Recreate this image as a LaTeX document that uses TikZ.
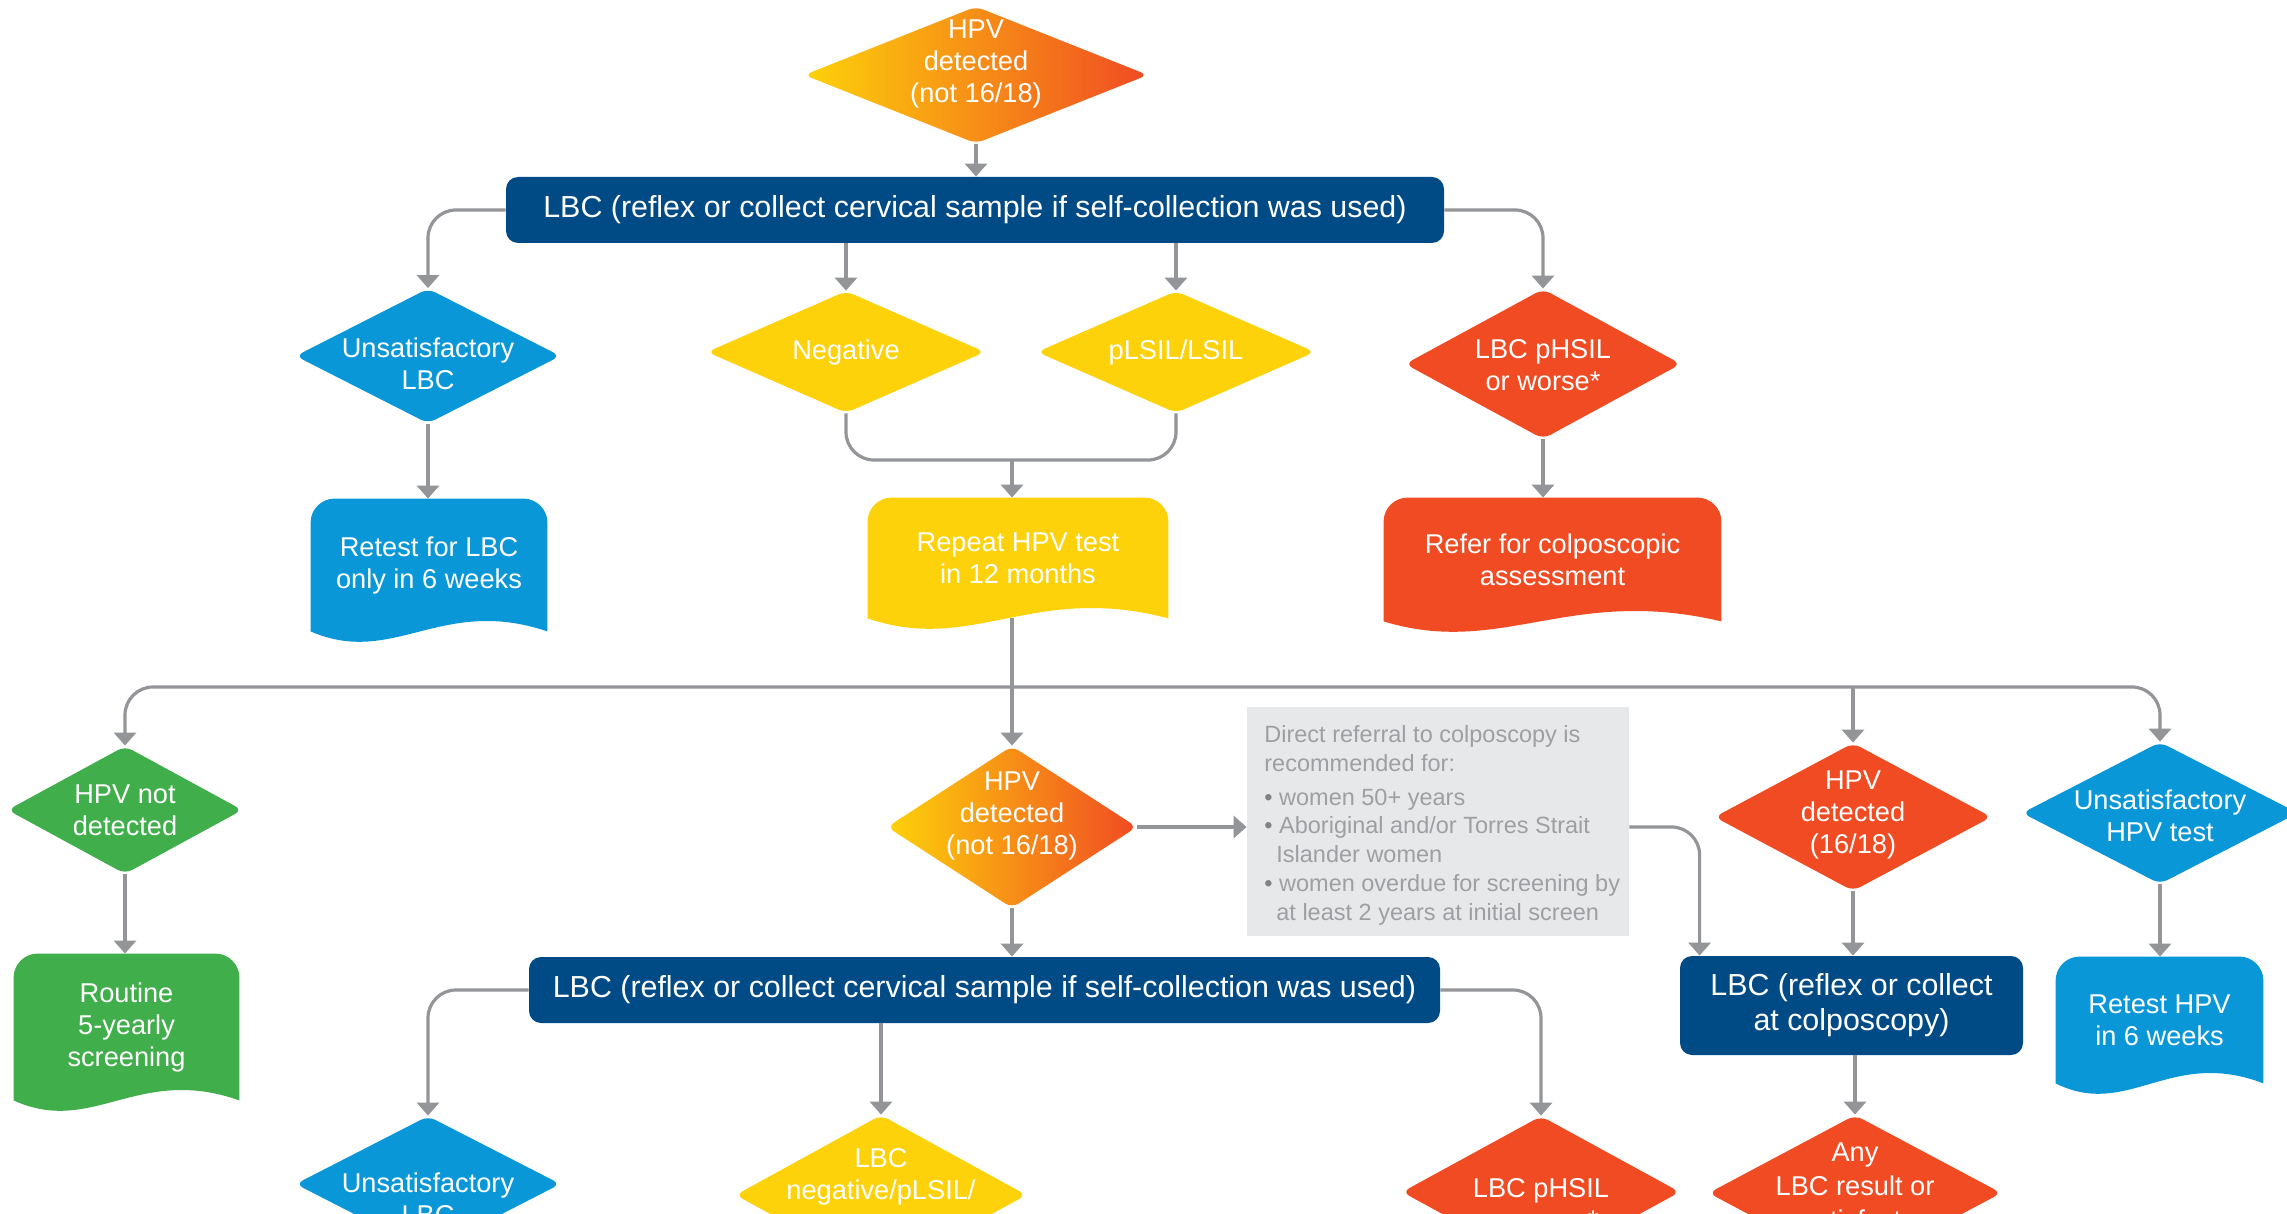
\documentclass[tikz,border=0pt]{standalone}
\usepackage{fontspec}
\setmainfont{Liberation Sans}
\usetikzlibrary{shapes.geometric,arrows.meta,calc}
\definecolor{dblue}{HTML}{004A85}
\definecolor{lblue}{HTML}{0A97D7}
\definecolor{yel}{HTML}{FDD20A}
\definecolor{orng}{HTML}{F5921E}
\definecolor{ored}{HTML}{F04B23}
\definecolor{grn}{HTML}{40AE4A}
\definecolor{lgray}{HTML}{939598}
\definecolor{boxgray}{HTML}{E7E8E9}
\definecolor{txtgray}{HTML}{9D9FA2}
\definecolor{bulgray}{HTML}{808285}
\pgfdeclarelayer{background}
\pgfsetlayers{background,main}
\newcommand{\docfill}[2]{%
  \fill[#2] (#1.south west) -- ([yshift=-12pt]#1.north west)
    arc[start angle=180,end angle=90,radius=12pt]
    -- ([xshift=-12pt]#1.north east)
    arc[start angle=90,end angle=0,radius=12pt]
    -- (#1.south east)
    .. controls ($(#1.south east)!0.45!(#1.south west)+(0,18pt)$)
    and ($(#1.south east)!0.65!(#1.south west)+(0,-18pt)$) .. (#1.south west) -- cycle;}
\begin{document}
\begin{tikzpicture}[x=0.5pt,y=-0.5pt,
  conn/.style={draw=lgray, line width=1.6pt},
  arr/.style={conn, -{Triangle[width=11pt,length=6.5pt]}},
  rconn/.style={arr, rounded corners=14pt},
  dia/.style={diamond, inner sep=0pt, rounded corners=4pt},
  grad/.style={left color=yel, middle color=orng, right color=ored},
  dtxt/.style={inner sep=0pt, align=center, text=white, font=\fontsize{13.6}{16}\selectfont},
  banner/.style={rectangle, rounded corners=6pt, fill=dblue, text=white, inner sep=0pt, align=center, font=\fontsize{15.2}{17.5}\selectfont},
  docbox/.style={rectangle, inner sep=0pt, align=center, text=white, font=\fontsize{13.6}{16}\selectfont},
  graytxt/.style={inner sep=0pt, align=left, text=txtgray, font=\fontsize{11.75}{14.4}\selectfont}
  ]
\useasboundingbox (0,0) rectangle (2287,1214);
\clip (0,0) rectangle (2287,1214);

% top section
\node[dia, grad, minimum width=172pt, minimum height=68.5pt] (d0) at (976,75) {};
\node[dtxt] (d0t) at (976,64) {HPV\\detected\\(not 16/18)};
\node[banner, minimum width=469pt, minimum height=33pt] (lbc1) at (975,210) {LBC (reflex or collect cervical sample if self-collection was used)};

\node[dia, fill=lblue, minimum width=132.5pt, minimum height=67.5pt] (unsat1) at (428,356) {};
\node[dtxt] (unsat1t) at (428,364) {Unsatisfactory\\LBC};
\node[dia, fill=yel, minimum width=139pt, minimum height=61pt] (neg) at (846,352) {};
\node[dtxt] (negt) at (846,352) {Negative};
\node[dia, fill=yel, minimum width=139pt, minimum height=61pt] (plsil) at (1176,352) {};
\node[dtxt] (plsilt) at (1176,352) {pLSIL/LSIL};
\node[dia, fill=ored, minimum width=138pt, minimum height=75pt] (phsil1) at (1543,364) {};
\node[dtxt] (phsil1t) at (1543,365) {LBC pHSIL\\or worse*};

\node[docbox, minimum width=118pt, minimum height=66pt] (retlbc) at (429,565) {Retest for LBC\\only in 6 weeks};
\node[docbox, minimum width=150pt, minimum height=60pt] (repeat) at (1018,558) {Repeat HPV test\\in 12 months};
\node[docbox, minimum width=168.5pt, minimum height=61.5pt] (refer) at (1552.5,559.5) {Refer for colposcopic\\assessment};

\coordinate (j1) at (1012,460);
\coordinate (bus) at (1012,687);

% middle section
\node[dia, fill=grn, minimum width=117.5pt, minimum height=64pt] (hpvnd) at (125,810) {};
\node[dtxt] (hpvndt) at (125,810) {HPV not\\detected};
\node[dia, grad, minimum width=125pt, minimum height=81pt] (mid) at (1012,827) {};
\node[dtxt] (midt) at (1012,816) {HPV\\detected\\(not 16/18)};
\node[dia, fill=ored, minimum width=138.5pt, minimum height=74pt] (d1618) at (1853,817) {};
\node[dtxt] (d1618t) at (1853,815) {HPV\\detected\\(16/18)};
\node[dia, fill=lblue, minimum width=138pt, minimum height=71pt] (unshpv) at (2160,813) {};
\node[dtxt] (unshpvt) at (2160,816) {Unsatisfactory\\HPV test};

\node[rectangle, fill=boxgray, minimum width=191pt, minimum height=114.5pt, inner sep=0pt] (gray) at (1438,821.5) {};
\node[graytxt, anchor=north west] (grayt) at (1264,725) {Direct referral to colposcopy is\\
recommended for:\\[2.5pt]
{\color{bulgray}\textbullet}\ women 50+ years\\
{\color{bulgray}\textbullet}\ Aboriginal and/or Torres Strait\\
\hspace*{6pt}Islander women\\
{\color{bulgray}\textbullet}\ women overdue for screening by\\
\hspace*{6pt}at least 2 years at initial screen};

\node[docbox, minimum width=112.5pt, minimum height=73pt] (routine) at (126.5,1027) {Routine\\5-yearly\\screening};
\node[banner, minimum width=455.5pt, minimum height=33pt] (lbc2) at (984.5,990) {LBC (reflex or collect cervical sample if self-collection was used)};
\node[banner, minimum width=171.5pt, minimum height=49.5pt] (lbc3) at (1851.5,1005.5) {LBC (reflex or collect\\at colposcopy)};
\node[docbox, minimum width=103.5pt, minimum height=63pt] (rethpv) at (2159.5,1020) {Retest HPV\\in 6 weeks};

% bottom section (cut off by the lower edge)
\node[dia, fill=lblue, minimum width=132.5pt, minimum height=68pt] (unsat2) at (428,1184) {};
\node[dtxt] (unsat2t) at (428,1199) {Unsatisfactory\\LBC};
\node[dia, fill=yel, minimum width=145.5pt, minimum height=80pt] (neg2) at (881,1195) {};
\node[dtxt] (neg2t) at (881,1177) {LBC\\negative/pLSIL/};
\node[dia, fill=ored, minimum width=139pt, minimum height=76pt] (phsil2) at (1541,1192) {};
\node[dtxt] (phsil2t) at (1541,1204.5) {LBC pHSIL\\or worse*};
\node[dia, fill=ored, minimum width=146.5pt, minimum height=78pt] (any) at (1855,1193) {};
\node[dtxt, font=\fontsize{13.6}{17}\selectfont] (anyt) at (1855,1188.5) {Any\\LBC result or\\unsatisfactory};

\begin{pgfonlayer}{background}
\fill[white] (0,0) rectangle (2287,1214);
\docfill{retlbc}{lblue}
\docfill{repeat}{yel}
\docfill{refer}{ored}
\docfill{routine}{grn}
\docfill{rethpv}{lblue}
\end{pgfonlayer}

% connectors
\draw[arr] (d0.south) -- (d0.south |- lbc1.north);
\draw[rconn] (lbc1.west) -| (unsat1.north);
\draw[arr] (lbc1.south -| neg.north) -- (neg.north);
\draw[arr] (lbc1.south -| plsil.north) -- (plsil.north);
\draw[rconn] (lbc1.east) -| (phsil1.north);
\draw[arr] (unsat1.south) -- (unsat1.south |- retlbc.north);
\draw[conn, rounded corners=14pt] (neg.south) |- (j1) -| (plsil.south);
\draw[arr] (j1) -- (j1 |- repeat.north);
\draw[arr] (phsil1.south) -- (phsil1.south |- refer.north);
\draw[arr] (j1 |- repeat.south) -- (mid.north);
\draw[rconn] (bus) -| (hpvnd.north);
\draw[rconn] (bus) -| (unshpv.north);
\draw[arr] (bus -| d1618.north) -- (d1618.north);
\draw[arr] (mid.east) -- (mid.east -| gray.west);
\draw[rconn] (gray.east |- mid.east) -| ([xshift=10pt]lbc3.north west);
\draw[arr] (hpvnd.south) -- (hpvnd.south |- routine.north);
\draw[arr] (mid.south) -- (mid.south |- lbc2.north);
\draw[arr] (d1618.south) -- (d1618.south |- lbc3.north);
\draw[arr] (unshpv.south) -- (unshpv.south |- rethpv.north);
\draw[rconn] (lbc2.west) -| (unsat2.north);
\draw[arr] (lbc2.south -| neg2.north) -- (neg2.north);
\draw[rconn] (lbc2.east) -| (phsil2.north);
\draw[arr] (lbc3.south -| any.north) -- (any.north);
\end{tikzpicture}
\end{document}
